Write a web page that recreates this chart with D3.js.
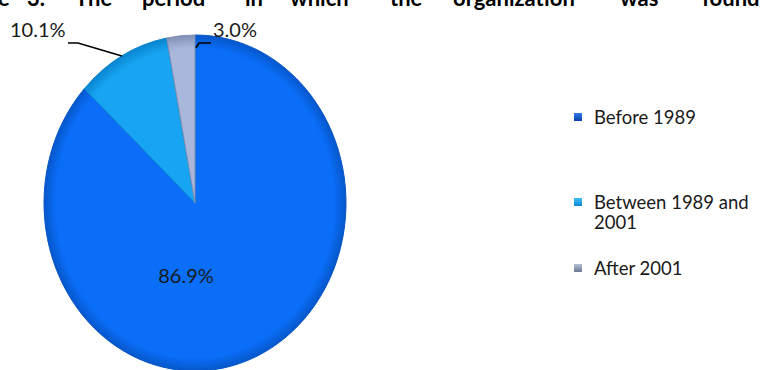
<!DOCTYPE html>
<html>
<head>
<meta charset="utf-8">
<script src="https://cdn.jsdelivr.net/npm/d3@7"></script>
<style>
  html, body { margin: 0; padding: 0; background: #ffffff; }
  svg { display: block; }
  text { font-family: Lato, "Open Sans", sans-serif; fill: #1a1a1a; }
</style>
</head>
<body>
<svg id="chart" width="760" height="370"></svg>
<script>
// Period in which the organization was founded (share of organizations, %)
const categories = ["Before 1989", "Between 1989 and 2001", "After 2001"];
const shares = [86.9, 10.1, 3.0];
const shareLabels = ["86.9%", "10.1%", "3.0%"];
const legendLines = [["Before 1989"], ["Between 1989 and", "2001"], ["After 2001"]];
const titleWords = ["Figure", "3.", "The", "period", "in", "which", "the", "organization", "was", "founded"];

const svg = d3.select("#chart");

// slice colours: body, rim shade, legend swatch light/dark
const fills = ["#0a6ef9", "#17a5f3", "#a9b8da"];
const rims = ["#0656c9", "#0a84cf", "#7f8fb3"];
const swatchLight = ["#2f7de8", "#3cc0f5", "#b9c3d6"];
const swatchDark = ["#0b3fa8", "#0e86d4", "#6b7690"];

// ---- title (justified line, partly above the view) ----
const titleX = [-52, 27, 75, 142, 245, 290, 390, 453, 620, 702];
const title = svg.append("text")
  .attr("y", 6)
  .style("font-weight", 700)
  .style("font-size", "22px")
  .style("fill", "#000");
titleWords.forEach((w, i) => {
  title.append("tspan").attr("x", titleX[i]).text(w);
});

// ---- pie (drawn as a circle and squashed into an ellipse) ----
const cx = 195, cy = 203, rx = 151, ry = 168;
const defs = svg.append("defs");

fills.forEach((f, i) => {
  const g = defs.append("radialGradient")
    .attr("id", "slice" + i)
    .attr("gradientUnits", "userSpaceOnUse")
    .attr("cx", 0).attr("cy", 0).attr("r", rx);
  g.append("stop").attr("offset", "0%").attr("stop-color", f);
  g.append("stop").attr("offset", "92%").attr("stop-color", f);
  g.append("stop").attr("offset", "97%").attr("stop-color", d3.interpolateRgb(f, rims[i])(0.6));
  g.append("stop").attr("offset", "100%").attr("stop-color", rims[i]);

  const s = defs.append("linearGradient")
    .attr("id", "swatch" + i)
    .attr("x1", 0).attr("y1", 0).attr("x2", 0).attr("y2", 1);
  s.append("stop").attr("offset", "0%").attr("stop-color", swatchLight[i]);
  s.append("stop").attr("offset", "100%").attr("stop-color", swatchDark[i]);
});

const pie = d3.pie().sort(null).value(d => d)(shares);
const arc = d3.arc().innerRadius(0).outerRadius(rx);

const pieG = svg.append("g")
  .attr("transform", `translate(${cx},${cy}) scale(1,${ry / rx})`);

pieG.selectAll("path.slice")
  .data(pie)
  .join("path")
  .attr("class", "slice")
  .attr("d", arc)
  .attr("fill", (d, i) => `url(#slice${i})`)
  .attr("stroke", (d, i) => rims[i])
  .attr("stroke-width", 1)
  .attr("vector-effect", "non-scaling-stroke");

// map a pie angle / radius fraction to screen coordinates on the ellipse
const onEllipse = (angle, frac) => [
  cx + rx * frac * Math.sin(angle),
  cy - ry * frac * Math.cos(angle)
];

// ---- value labels ----
const labelFont = "20px";

// biggest slice: label inside
svg.append("text")
  .attr("x", 186).attr("y", 283)
  .attr("text-anchor", "middle")
  .style("font-size", labelFont)
  .text(shareLabels[0]);

// middle slice: label at top left with a leader line to the rim
{
  const d = pie[1];
  const p = onEllipse((d.startAngle + d.endAngle) / 2, 1);
  svg.append("path")
    .attr("d", d3.line()([[68, 43], [78, 43], p]))
    .attr("fill", "none").attr("stroke", "#000").attr("stroke-width", 1.6);
  svg.append("text")
    .attr("x", 10).attr("y", 37)
    .style("font-size", labelFont)
    .text(shareLabels[1]);
}

// smallest slice: label above right, short leader line
{
  const d = pie[2];
  const p = onEllipse(d.endAngle, 0.93);
  svg.append("path")
    .attr("d", d3.line()([[211, 43], [199, 43], [p[0] + 1, p[1] + 1]]))
    .attr("fill", "none").attr("stroke", "#000").attr("stroke-width", 1.6);
  svg.append("text")
    .attr("x", 213).attr("y", 37)
    .style("font-size", labelFont)
    .text(shareLabels[2]);
}

// ---- legend ----
const legendY = [124, 209, 275];
const legend = svg.append("g");
categories.forEach((c, i) => {
  legend.append("rect")
    .attr("x", 574).attr("y", legendY[i] - 11)
    .attr("width", 8).attr("height", 8)
    .attr("fill", `url(#swatch${i})`);
  legendLines[i].forEach((line, j) => {
    legend.append("text")
      .attr("x", 594)
      .attr("y", legendY[i] + j * 20)
      .style("font-size", "18.5px")
      .text(line);
  });
});
</script>
</body>
</html>
